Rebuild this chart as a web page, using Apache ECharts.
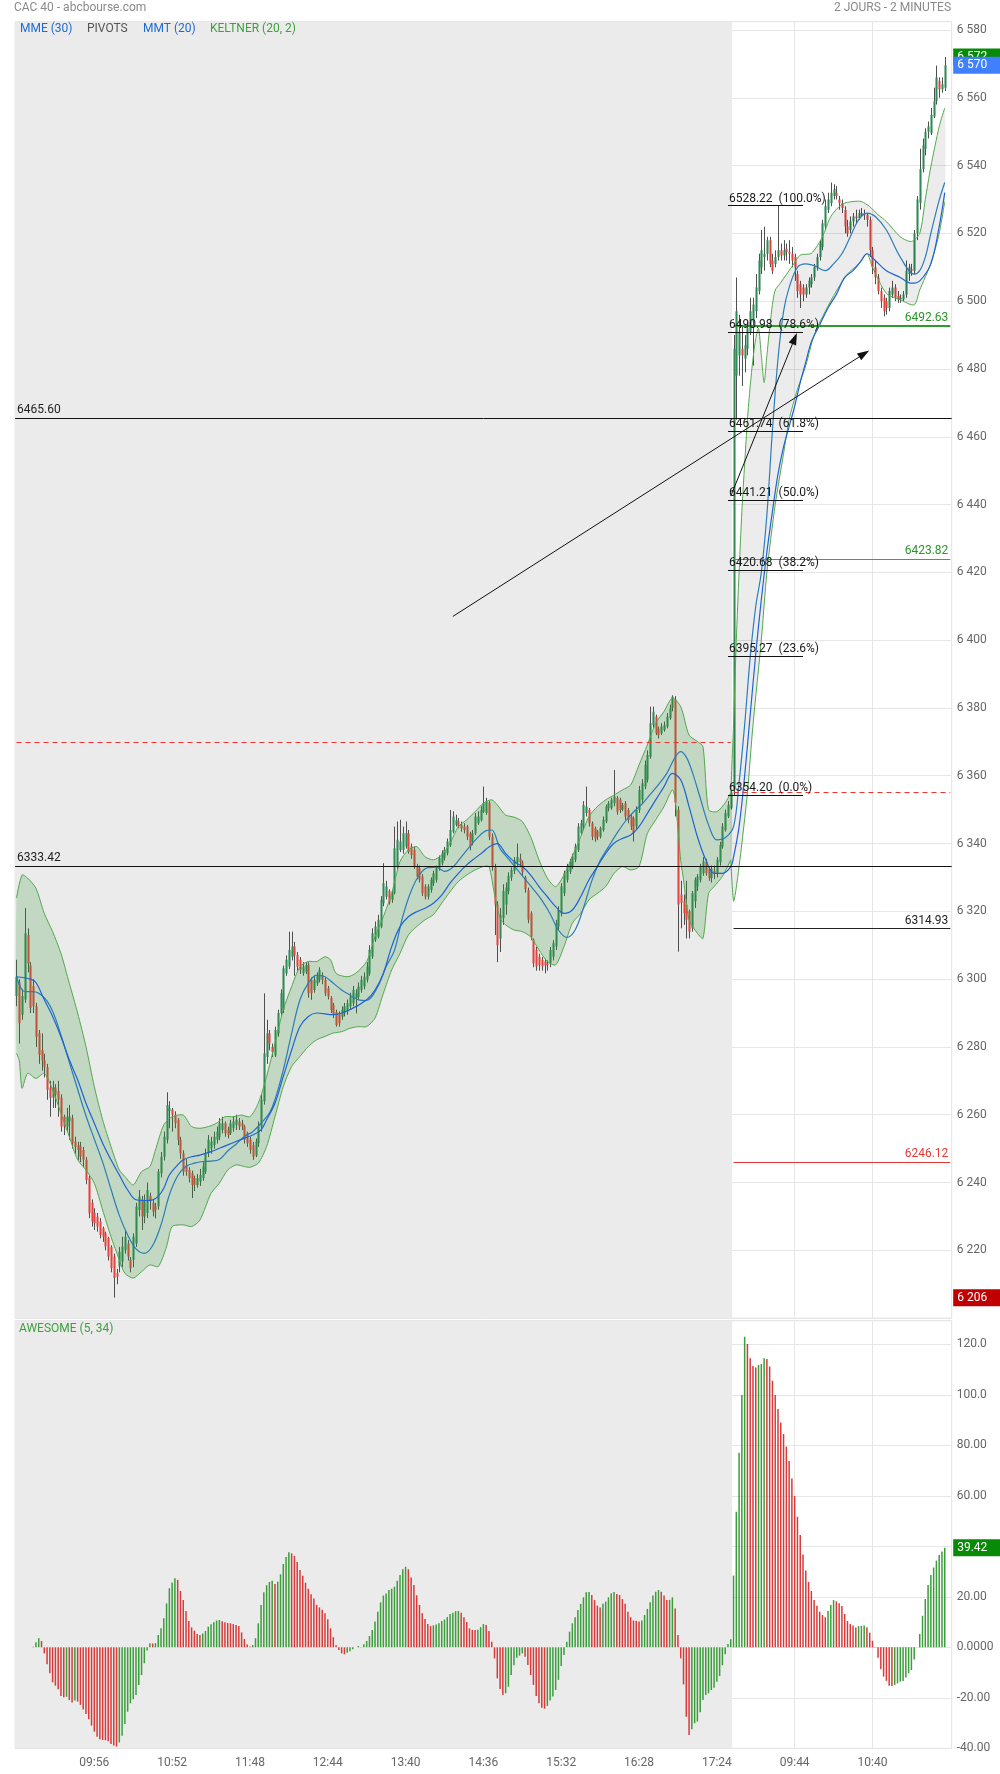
<!DOCTYPE html>
<html><head><meta charset="utf-8">
<script src="https://cdn.jsdelivr.net/npm/echarts@6/dist/echarts.min.js"></script>
<style>html,body{margin:0;padding:0;background:#fff}#c{width:1000px;height:1774px}</style>
</head><body><div id="c"></div>
<script>
// ---------- DATA ----------
const opens = [6295,6299,6289.5,6294,6313,6304,6298,6292,6284,6279,6276,6274,6268,6265,6268,6267,6265,6259.4,6256.5,6258,6259,6252,6251,6250.6,6249.6,6246.7,6241.3,6234,6231,6229.9,6228.5,6226.5,6225,6223.6,6221,6218.2,6213.2,6215.2,6216.7,6220,6222,6217.2,6217.2,6222,6231.9,6235,6230,6231,6236,6234,6232.9,6232.9,6242.7,6247.6,6252.6,6261,6261.5,6260,6258.5,6252.6,6248.6,6245,6243.7,6242.7,6241.3,6239.3,6240.3,6241.3,6243.2,6248.6,6250,6251.1,6252.6,6253.5,6255.5,6257.5,6255.5,6254.5,6256,6257,6258,6257.5,6256.5,6254.5,6252.6,6251,6248,6251.6,6256.5,6264,6277,6284,6280,6277.5,6284,6289.9,6291,6301.7,6303.7,6306.6,6309.6,6307.1,6305.7,6301.7,6302.2,6304.2,6299.8,6296.8,6298.8,6299.8,6301.2,6299.8,6297.3,6294.4,6292.4,6290.4,6289.9,6288.9,6289.9,6290.4,6291.9,6292.9,6294.4,6294.8,6296.8,6297.8,6299.8,6301.7,6306.6,6311.6,6312.5,6315.5,6322.4,6324.3,6326,6323.4,6325.3,6333.2,6338.1,6338.1,6339.1,6343,6339.1,6338.1,6333.2,6332.7,6330.3,6327.3,6324.3,6326.3,6328.3,6329.3,6332.7,6334.2,6335.7,6337.1,6339.6,6343.5,6345.5,6346.5,6345.5,6345,6345,6343,6340.6,6343,6346,6346.9,6349.4,6349,6352,6342,6333,6322,6312,6318,6322,6326,6330,6332,6334.5,6335.5,6334.5,6330,6326.3,6319.4,6311.6,6308.6,6306.6,6305.7,6305.2,6304.5,6304.7,6306.6,6309.6,6315.5,6319.4,6325.3,6329.3,6331.7,6333.2,6335.2,6338.1,6343,6345,6349,6350,6346,6344.5,6343.5,6342,6344,6346.5,6350.4,6350.4,6351.9,6353.4,6352.9,6350,6351.9,6349.9,6348,6347.5,6345,6349.9,6352.9,6356.8,6358.8,6365.6,6375,6377.5,6373.9,6372.5,6373.5,6374.5,6377,6379.9,6382.5,6350,6325,6323,6322,6320,6315,6323,6327.3,6329.3,6331.2,6334.7,6332.5,6329.8,6332,6331,6334.5,6339.1,6344,6348,6350.4,
6356,6478,6484,6486,6483,6486,6491,6494,6497,6503,6510,6513,6514,6518,6512,6511,6513,6515,6513.5,6515.5,6514.5,6514,6513,6508,6505,6504,6502,6504,6505,6507,6510,6513,6516,6522,6527,6529,6531,6532,6530,6529,6527,6522,6521,6523.5,6525,6524.5,6525.5,6526,6525.5,6524,6515,6510,6507,6503,6501,6500,6498,6502,6504,6501.5,6500.5,6500.5,6502,6508,6509.5,6509,6520,6529,6539,6545,6550,6549.5,6554.5,6559,6565,6562.5,6563];
const highs = [6305.7,6300,6297,6321,6315,6305,6300,6293,6285,6284,6278,6275,6270,6270,6269,6270,6266,6260,6262,6262.9,6260,6253.5,6252,6252,6250.5,6247.5,6242,6235,6232.4,6231,6229.5,6227,6225.5,6224,6221.5,6219,6214.5,6221,6224,6226,6223,6218,6225,6234,6237.8,6236,6236.5,6240,6237,6235,6234,6244,6249,6255,6266.6,6264,6262,6261,6259,6253.5,6249.5,6247,6244.5,6243.5,6242,6242.5,6244,6246,6250,6254,6253.5,6255,6256.5,6259,6259.4,6258,6256.5,6258.5,6259.5,6260,6259,6258.5,6257,6255,6253.5,6252,6253,6258,6266,6295.8,6288,6285,6281,6286,6291,6297,6304,6307,6314,6314,6311,6308,6306.5,6305,6305,6305,6300.5,6301,6302,6303.5,6302,6300.5,6298,6295,6293,6291,6290.5,6292,6293,6294,6296,6298,6297,6299,6301,6302,6305,6310,6315,6317,6319,6324.5,6334.2,6329,6326.5,6326,6345,6346.5,6347,6345,6346.5,6344,6340,6339,6334,6333.5,6331,6328,6328,6330,6332,6333.5,6336.5,6338,6339,6341.5,6349.9,6349.5,6348.5,6347.5,6346.5,6346,6345.5,6343.5,6344,6349,6349.5,6351,6356.8,6353.5,6352.5,6343,6334,6323,6321,6328,6328.5,6331.5,6333,6336,6340,6337,6335,6330.5,6327,6320,6312,6309.5,6307.5,6306.5,6306,6305.5,6309.5,6311.5,6317.5,6321.5,6328.3,6332,6334,6335.5,6337,6340,6346,6347,6352.5,6356.8,6350.5,6346.5,6345,6344,6345,6348,6351.5,6352.5,6353.5,6361.7,6354,6353.5,6352,6352.5,6350.5,6348.5,6348,6351,6357,6359,6364.5,6367.5,6380.4,6380.4,6378,6374.5,6375.5,6376,6378.5,6381,6383.74,6383.5,6351,6329,6325,6329,6320.5,6326,6330,6331,6334,6336,6335.5,6333,6333.5,6333.5,6336,6340.5,6346,6350,6352.5,6355.5,
6490,6507,6496,6493,6490,6494,6501,6501,6508,6514,6521,6522,6519,6519,6514,6515,6528.22,6517,6518,6517,6518,6516,6514,6509,6506,6505,6505,6507,6508,6511,6514,6518,6524,6530,6532,6535,6534.5,6534,6531,6530,6528,6524,6525,6526,6527,6527,6527.5,6527,6526,6525,6516,6512,6508,6504,6502,6501,6504,6506,6505,6503,6502,6503,6512,6511,6511,6521,6531,6545,6548,6551,6553,6557,6563,6569.5,6566,6566,6572];
const lows = [6292,6281,6288,6293,6302,6290,6290,6280,6275,6273,6271,6264.4,6259.4,6262,6262,6259.4,6255,6254,6255,6252.6,6250,6248.5,6246.7,6246,6244.5,6239.5,6229.5,6227,6226,6225.5,6223.5,6222.5,6220,6217,6213.5,6206.04,6210,6213.5,6215,6219,6217,6213.5,6215,6221,6230,6226,6228,6229.5,6232,6230,6229.4,6232,6241.5,6246.5,6251.5,6256,6255,6256,6251,6247,6242,6242,6240,6235.4,6237.5,6238.5,6239,6240.5,6242.5,6247.5,6248.5,6250,6251.5,6252.5,6254.5,6253.5,6253,6254,6255,6255.5,6255.5,6255.5,6251.5,6250.5,6248.5,6246.7,6247.5,6250.5,6255,6263,6275,6279,6277,6277,6283,6289,6290,6301,6303,6305.5,6301,6302,6301.5,6301,6301.5,6294.5,6293.9,6296,6298,6299,6298.5,6295,6294,6290,6288.5,6286,6286,6288,6289,6289.5,6291,6292,6289.9,6294,6296,6297,6299,6301,6306,6311,6312,6315,6321.5,6323.5,6322,6322.5,6325,6332.5,6337.5,6337,6338.5,6337,6335.5,6332.5,6329.5,6328.5,6324.5,6323.5,6323.5,6325.5,6327.5,6328.5,6332,6333.5,6335,6336.5,6339,6343,6345,6344.5,6343.5,6343,6341,6338,6339.5,6342.5,6345.5,6346.5,6349,6348.5,6341,6332,6313,6305,6308,6316,6319,6325,6329,6331,6333,6333,6330.5,6325.5,6316.5,6311.5,6303.5,6302.5,6302.5,6302.5,6301.7,6302.5,6303.5,6305.5,6308.6,6314.5,6318.5,6324.5,6328.5,6331,6332.5,6334.5,6337.5,6342.5,6344,6348,6345,6341,6340.5,6341,6341.5,6343.5,6346,6349.5,6350,6351,6348.5,6349,6349.5,6347,6346,6344,6340.6,6344,6349,6352,6356,6358,6365,6374,6372,6371,6372,6373,6374,6376.5,6379,6348,6308.1,6315,6316,6312,6312,6314,6321,6326,6328.5,6330.5,6330.5,6329,6328.5,6329.5,6330,6333.5,6338.5,6343.5,6347.5,6350,
6354.2,6465,6478,6475,6479,6484,6490,6481,6495,6502,6508,6509,6512,6510,6508,6510,6512,6512,6512,6512,6511,6510,6506,6501,6498,6500,6501,6502,6504,6506,6509,6512,6515,6521,6526,6528,6530,6530,6527,6526,6520,6519,6520,6522,6523,6524,6525,6524,6522,6513,6508,6505,6502,6498,6495.5,6496,6497,6501,6500,6499.5,6499.5,6500,6501,6506,6507.5,6508,6518,6527,6538,6543,6548,6549,6554,6558,6560,6561.5,6562];
const closes = [6300.7,6287,6295,6313.5,6304.5,6291.5,6292,6283,6277.6,6276,6274,6267.3,6265,6268,6266,6264.5,6256.5,6256.5,6259.4,6259.5,6251.6,6250.5,6249.6,6247.6,6246.7,6240.8,6230.9,6228.5,6228,6227,6224.5,6224,6221.1,6218.2,6214.7,6211.8,6212.3,6219.6,6221.1,6224,6218.2,6214.7,6224,6232.9,6235.9,6230,6234.4,6237.8,6234.4,6231.4,6231.9,6243.2,6247.6,6253.5,6262.9,6261.9,6260,6257.5,6252.6,6248.6,6243.2,6243.2,6241.3,6239.3,6239.3,6241.3,6242.2,6244.7,6248.6,6252.6,6252.1,6253.5,6255,6257.5,6257.5,6254.5,6254,6257.5,6258,6258.5,6256.5,6256.5,6252.6,6251.6,6249.6,6247.6,6252.1,6256.5,6264.4,6278.1,6284,6281,6278.5,6285,6290,6295.8,6303.2,6305.7,6308.6,6309.6,6307,6303.7,6302.7,6303.7,6304.2,6295.8,6295.8,6299.8,6301.2,6302.7,6299.8,6295.8,6294.8,6290.9,6289.4,6286.5,6287,6290.9,6291.9,6292.9,6294.8,6296.8,6295.8,6297.8,6299.8,6300.7,6303.7,6308.6,6313.5,6315.5,6317.5,6323.4,6328.3,6327.3,6322.6,6325.3,6338.6,6341.1,6340.6,6343,6343,6337.6,6336.6,6333.2,6330.3,6329.3,6325.3,6324.3,6327.3,6329.3,6331.2,6332.7,6335.7,6337.1,6338.1,6340.6,6344,6348,6346.9,6345,6344.5,6344,6342,6339.1,6343,6348,6348,6349.9,6351.9,6352.4,6342,6333,6322,6310,6319,6326,6327,6330.5,6332.3,6335,6336,6334.5,6331.5,6326.5,6317.5,6312.5,6304.7,6303.7,6304.2,6303.7,6304,6304.2,6308.6,6310.6,6316.5,6320.4,6327.3,6331.2,6333.2,6334.7,6336.2,6339.1,6345,6346,6351.4,6350.9,6346,6342,6341.5,6342,6344.5,6347,6350.9,6351.9,6352.9,6353.9,6349.4,6349.9,6351.4,6348,6347,6345,6343,6349.9,6355.8,6357.8,6363.2,6366.1,6375.5,6378.9,6372.5,6372,6374.5,6375,6377.5,6379.9,6383.3,6352,6322,6322.5,6319.4,6317.5,6314,6325.3,6329.3,6330.3,6333.2,6334.7,6331.2,6329.8,6332.5,6331,6335.2,6339.6,6345,6349,6351.4,6355.01,
6486,6497,6491,6484,6487,6492,6497,6499,6504,6512,6515,6514,6518,6511,6509,6513,6515,6513.5,6515,6514.5,6514,6512,6510,6503,6502,6502,6504,6506,6507,6510,6513,6517,6523,6528,6530,6532,6533,6531,6529,6527.5,6522,6520,6523.5,6525,6524.5,6526,6526,6525.5,6524,6515,6510,6507,6503,6500,6497,6498,6503,6504,6501,6500.5,6501,6502,6509,6510,6509,6520,6530,6539,6546,6550,6551.5,6555,6559,6566,6562.5,6564,6569.6];

// Awesome oscillator (5, 34), first bar at index 6
const aoStart = 6;
const awesome = [0.2,2.0,3.6,2.5,-2.4,-6.7,-10.3,-13.9,-15.2,-16.6,-19.3,-19.8,-19.6,-20.9,-21.9,-21.1,-21.5,-22.8,-24.6,-26.4,-28.5,-31.0,-33.4,-35.4,-36.4,-36.7,-36.8,-37.2,-38.3,-38.9,-39.3,-37.7,-35.0,-30.4,-25.5,-22.2,-20.6,-18.9,-14.9,-11.0,-6.3,-1.3,1.6,1.5,1.6,4.9,7.5,11.5,17.4,23.4,25.7,27.3,26.7,22.3,18.7,14.4,10.4,7.9,6.6,5.3,4.9,5.5,6.5,8.2,9.1,9.9,10.6,10.8,10.3,9.9,9.6,9.5,9.2,8.8,8.4,5.9,3.3,1.1,0.3,0.9,3.6,9.5,16.8,21.8,24.6,25.9,26.4,25.1,26.0,28.9,33.0,35.8,37.6,37.2,36.2,33.8,30.6,28.3,25.6,23.2,21.0,19.3,16.8,15.8,14.9,13.5,11.1,7.5,4.0,0.8,-1.1,-2.4,-2.8,-2.2,-1.6,-0.8,0.0,0.5,0.1,1.2,2.5,4.5,6.9,10.2,14.1,17.8,20.5,21.3,22.7,23.2,24.0,26.4,28.6,30.9,31.9,30.9,27.6,24.7,20.6,16.8,13.5,11.2,9.2,8.4,8.7,9.0,9.5,10.4,11.0,12.0,13.2,13.7,14.3,14.4,13.7,11.9,10.0,7.5,6.9,6.9,7.0,8.0,9.2,8.8,6.5,2.2,-4.4,-12.3,-16.5,-18.9,-18.2,-15.6,-11.0,-7.1,-4.1,-3.3,-2.4,-3.7,-7.0,-11.0,-14.9,-19.3,-22.2,-23.9,-24.3,-23.2,-21.1,-19.5,-16.9,-12.9,-7.4,-3.0,2.2,6.2,9.5,11.9,14.8,17.2,19.8,21.8,21.9,20.7,18.7,16.5,15.8,17.2,18.1,19.8,21.4,21.9,21.1,20.7,19.1,17.2,14.1,11.9,10.6,10.5,10.2,10.6,12.8,15.2,17.8,20.5,22.0,22.7,22.0,20.5,18.7,18.8,19.8,15.4,4.9,-4.4,-14.7,-27.5,-34.7,-32.5,-30.1,-29.4,-25.7,-20.9,-18.9,-18.2,-16.9,-16.0,-13.6,-11.4,-7.1,-2.8,1.3,3.2,28.4,53.7,77.1,99.9,123.0,120.1,114.5,111.4,110.8,111.8,112.2,114.5,114.2,111.2,105.6,99.9,94.4,89.0,84.5,79.5,73.8,66.9,59.9,51.7,44.5,36.8,30.4,25.9,22.3,18.7,16.5,14.1,12.8,11.9,14.4,16.8,18.7,18.2,17.4,16.4,13.2,10.4,9.2,8.6,7.8,8.4,8.5,8.6,7.9,5.8,2.6,0.1,-4.1,-8.7,-11.6,-13.3,-15.2,-15.3,-14.9,-14.3,-13.6,-13.3,-12.0,-10.3,-9.0,-4.8,0.0,5.3,12.5,19.1,24.7,28.6,31.6,34.3,36.6,37.9,39.42];

// Moving averages, sampled along the curves [candle index, value]
const mmt = [[0,6300.7],[3,6296.3],[6,6296.3],[10,6294.5],[13,6290.5],[16,6283.5],[19,6275.5],[22,6267.5],[25,6259.7],[28,6252.8],[31,6246],[34,6238],[37,6230.3],[40,6224.5],[43,6220.4],[46,6219.1],[49,6221.4],[52,6227.5],[55,6236.3],[58,6242],[61,6244.8],[64,6245.7],[67,6246.2],[70,6246.3],[73,6246.8],[76,6249.3],[79,6251.3],[82,6253.6],[85,6255],[88,6257.5],[91,6260.5],[93,6264.4],[96,6273.2],[99,6284],[102,6293.9],[105,6298.8],[108,6301.2],[111,6300.7],[114,6298.8],[117,6296.8],[120,6295.3],[123,6293.9],[126,6293.7],[130,6297.8],[133,6303.7],[136,6308.5],[139,6318.5],[142,6326],[145,6330.8],[148,6332.9],[151,6333],[154,6331.8],[157,6333],[160,6336],[163,6339],[166,6341.8],[169,6343.8],[171,6344],[174,6338.5],[177,6335.5],[180,6332.5],[183,6329.5],[186,6326.5],[189,6323.3],[192,6319.3],[195,6314.5],[198,6312.3],[201,6314.5],[204,6321],[207,6329],[210,6335],[213,6339],[216,6343],[219,6346.5],[222,6349.3],[225,6351.6],[228,6354.5],[231,6357.4],[234,6360.7],[237,6365.5],[239,6367.1],[241,6365.5],[243,6361.5],[246,6353.5],[249,6345.5],[252,6341.1],[255,6341.7],[258,6345],[260,6358],[262,6375],[264,6395],[266,6410],[268,6420],[270,6437],[272,6462],[274,6483],[276,6497],[278,6504],[281,6510],[284,6511],[287,6510.5],[291,6509],[294,6511],[297,6514],[300,6519],[303,6524],[306,6526],[309,6525],[313,6521],[318,6513],[323,6508],[325,6509],[327,6513],[329,6520],[332,6529.8],[334,6535]];
const mme = [[0,6300.7],[5,6300],[7,6299],[10,6293.9],[13,6289],[16,6283],[19,6276.2],[22,6270.3],[25,6263.4],[28,6257.5],[31,6251.6],[34,6246.7],[37,6242.2],[40,6237.8],[43,6234.9],[46,6234.7],[49,6234.9],[51,6235.9],[53,6238.3],[55,6242.2],[58,6245.2],[60,6246.7],[63,6247.6],[66,6248.1],[70,6249.1],[73,6250.1],[76,6251.1],[79,6252.1],[82,6253.1],[85,6254],[88,6255.5],[90,6258.5],[93,6263.4],[96,6271.3],[99,6279.1],[102,6286],[105,6289],[108,6290],[114,6289.5],[120,6291],[126,6293.9],[129,6296.8],[132,6301.7],[135,6309.6],[138,6315.5],[141,6318.4],[144,6319.9],[147,6320.9],[150,6322.4],[153,6324.8],[156,6328.3],[159,6331.2],[162,6333.7],[165,6335.7],[168,6337.6],[170,6339],[173,6340],[176,6337.1],[179,6334.7],[182,6333.2],[185,6330.7],[188,6327.3],[191,6324.3],[194,6321.4],[197,6319.4],[200,6320.4],[203,6324.3],[206,6329.3],[209,6333.2],[212,6337.1],[215,6340.1],[218,6341.5],[221,6342.5],[224,6345],[227,6348.9],[230,6352.9],[233,6356.8],[236,6360.7],[239,6358.8],[242,6350.9],[245,6342],[248,6335.2],[251,6331.2],[254,6331.2],[257,6333.2],[258,6336],[260,6345],[262,6360],[264,6378],[266,6396],[268,6412],[270,6426],[272,6438],[274,6449],[276,6457],[278,6463],[280,6469],[282,6476],[284,6482],[286,6488],[289,6493],[292,6498],[295,6502],[298,6507],[301,6509],[304,6512],[306,6514],[309,6512],[313,6509],[318,6507],[322,6505.3],[325,6506],[329,6511],[332,6522],[334,6532]];

// Keltner (20, 2) bands, sampled along the curves
const kUpper1 = [[0,6323.9],[2,6330.7],[4,6329.8],[7,6326.8],[10,6319.4],[13,6314],[16,6307.6],[19,6298.8],[22,6290],[25,6280.1],[28,6268.3],[31,6258.5],[34,6250.6],[37,6243.7],[39,6241.8],[42,6239.3],[45,6243.2],[48,6244.7],[50,6249.6],[53,6257],[56,6259.4],[60,6259.9],[63,6256.5],[66,6256],[69,6256.5],[72,6257.5],[75,6259.4],[78,6259.4],[81,6259.9],[84,6259.4],[87,6263.4],[90,6271.3],[93,6281.1],[96,6291],[99,6297.8],[102,6303.7],[105,6305.2],[108,6305.2],[111,6306.6],[113,6305.7],[115,6301.7],[119,6300.7],[122,6301.7],[126,6305.2],[129,6312.5],[132,6318.4],[135,6325.3],[138,6334.7],[141,6338.1],[144,6339.1],[147,6336.1],[150,6335.2],[153,6336.6],[156,6340.1],[159,6345],[162,6347],[165,6349.4],[168,6351.9],[171,6352.9],[173,6351.4],[176,6348.4],[179,6347.8],[182,6346.5],[185,6342],[188,6335.2],[191,6329.8],[194,6327.3],[197,6330.7],[200,6336.2],[203,6342],[206,6348],[209,6350.9],[212,6352.9],[215,6354.3],[218,6355.8],[221,6357.3],[224,6363.2],[227,6369.1],[230,6375.5],[233,6379],[236,6382.9],[239,6380.4],[242,6372],[245,6370.1],[247,6368.6],[249,6350],[252,6349.4],[255,6352],[257,6355]];
const kLower1 = [[0,6278.1],[1,6276],[2,6267.8],[4,6272.2],[7,6270.7],[10,6272.2],[13,6267.3],[16,6260.4],[19,6253.5],[22,6246.7],[25,6243.7],[28,6239.8],[31,6231.9],[34,6224],[37,6217.2],[39,6213.2],[42,6211.8],[45,6213.7],[48,6215.7],[51,6215.2],[54,6221.1],[56,6227],[60,6227.5],[63,6227],[66,6228.9],[70,6236.8],[73,6239.8],[76,6243.7],[79,6245.2],[82,6244.7],[84,6244.5],[87,6245.7],[90,6250.6],[93,6259.4],[96,6268.3],[99,6274.2],[102,6277.2],[105,6280.1],[108,6282.1],[111,6283.1],[114,6284.1],[117,6284.5],[120,6285.5],[123,6286],[126,6286],[129,6288.5],[132,6295.8],[135,6302.7],[138,6307.6],[141,6313],[144,6315.5],[147,6317.5],[150,6319],[153,6322.4],[156,6325.8],[159,6328.8],[162,6330.7],[165,6332.2],[168,6333.2],[170,6333.2],[172,6325],[174,6318],[176,6316],[179,6314.5],[182,6314],[185,6312.5],[188,6308.6],[191,6305.2],[194,6304.2],[197,6309.6],[200,6316.5],[203,6319.4],[206,6323.4],[209,6325.3],[212,6327.3],[215,6331.2],[218,6333.2],[221,6332.2],[224,6333.2],[227,6343],[230,6347],[233,6350.9],[236,6355.8],[237,6353],[239,6335],[240,6329.3],[242,6317.5],[245,6313.5],[247,6312],[249,6325.3],[251,6327.3],[254,6330.3],[257,6335.2]];
const kUpper2 = [[257,6355],[258,6375],[259,6400],[260,6420],[261,6438],[262,6452],[263,6465],[264,6475],[265,6483],[266,6489],[267,6492],[268,6484],[269,6476],[270,6484],[271,6492],[272,6499],[273,6503.3],[275,6505.5],[279,6510.2],[282,6513.6],[286,6514.1],[290,6519],[293,6525],[297,6528.6],[301,6529.4],[304,6529.4],[307,6527.9],[310,6525.5],[313,6523.5],[318,6519],[322,6517.6],[325,6520],[327,6530],[329,6539.7],[332,6551.5],[334,6557]];
const kLower2 = [[257,6335.2],[258,6323],[259,6327],[261,6340],[263,6355],[265,6375],[268,6400],[270,6420],[273,6440],[276,6455],[278,6465],[281,6474],[284,6481],[287,6490],[291,6497],[295,6503],[299,6508],[303,6511],[306,6514],[308,6510],[313,6502.3],[318,6500.4],[323,6498.9],[325,6503.3],[329,6511.2],[332,6520],[334,6529.4]];

// Horizontal levels
const userLines = [6465.60, 6333.42];
const prevPivotDay1 = 6370;
const prevClose = 6355.01;
const pivotLevels = [
  {v: 6492.63, color: '#2f9a2f', text: '#2a962a', width: 2},
  {v: 6423.82, color: '#3fa53f', text: '#2a962a', width: 1},
  {v: 6314.93, color: '#222222', text: '#222', width: 1},
  {v: 6246.12, color: '#e53935', text: '#e53935', width: 1}
];
const fibLevels = [[6528.22,'100.0%'],[6490.98,'78.6%'],[6461.74,'61.8%'],[6441.21,'50.0%'],[6420.68,'38.2%'],[6395.27,'23.6%'],[6354.20,'0.0%']];
const arrows = [[[157,6407.0],[305,6484.5]], [[257,6442.5],[280,6489.0]]];
const dayHigh = 6572, dayLow = 6206.04;
// tick labels of the oscillator axis (40 is hidden under the value badge)
const aoLabels = {'120':'120.0','100':'100.0','80':'80.00','60':'60.00','20':'20.00','0':'0.0000','-20':'-20.00','-40':'-40.00'};

// ---------- categories ----------
const day1Count = 258, day2Slots = 79;
function hm(m){const h=Math.floor(m/60), mm=m%60; return (h<10?'0':'')+h+':'+(mm<10?'0':'')+mm;}
const categories = [];
for (let k=0;k<day1Count;k++) categories.push('J1 '+hm(540+2*k));
for (let k=0;k<day2Slots;k++) categories.push('J2 '+hm(540+2*k));
const N = categories.length;
const timeTick = (i)=>i>0 && i<N-2 && i%28===0;

function fmtPrice(v){ const s=String(Math.round(v)); return s.slice(0,s.length-3)+' '+s.slice(-3); }

// ---------- build series data ----------
const candleData = closes.map((c,i)=>[i, opens[i], c, lows[i], highs[i]]);
const GREEN_AO='#3b9d3b', RED_AO='#d83a3a';
const aoData = [];
for (let i=0;i<closes.length;i++){
  const k=i-aoStart;
  if (k<0){ aoData.push(null); continue; }
  const v=awesome[k], p=k>0?awesome[k-1]:Infinity;
  aoData.push({value:v, itemStyle:{color: v>p?GREEN_AO:RED_AO}});
}
const lastClose = closes[closes.length-1];
const lastAO = awesome[awesome.length-1];

const GRID_TOP=21.7, GRID_LEFT=15.1, GRID_RIGHT=48.3;
const PRICE_MIN=6200, PRICE_MAX=6582.45;
const AO_MIN=-40, AO_MAX=129.35;

const bandSegs = [
  {up:kUpper1, lo:kLower1, fill:'rgba(50,150,50,0.22)'},
  {up:kUpper2, lo:kLower2, fill:'rgba(0,0,0,0.075)'}
];

const markLineData = [];
userLines.forEach(v=>markLineData.push({yAxis:v, lineStyle:{color:'#111',width:1,type:'solid'},
  label:{show:true,position:'insideStartTop',formatter:v.toFixed(2),color:'#222',fontSize:12,distance:2}}));
markLineData.push([{coord:[0,prevPivotDay1], lineStyle:{color:'#ee3333',width:1,type:[5,4]}, label:{show:false}},{coord:[day1Count-1,prevPivotDay1]}]);
markLineData.push([{coord:[day1Count,prevClose], lineStyle:{color:'#ee3333',width:1,type:[5,4]}, label:{show:false}},{coord:[N-1,prevClose]}]);
pivotLevels.forEach(p=>markLineData.push([{coord:[day1Count,p.v], lineStyle:{color:p.color,width:p.width,type:'solid'},
  label:{show:true,position:'insideEndTop',formatter:p.v.toFixed(2),color:p.text,fontSize:12,distance:2}},{coord:[N-1,p.v]}]));
fibLevels.forEach(f=>markLineData.push([{coord:[256,f[0]], lineStyle:{color:'#111',width:1,type:'solid'},
  label:{show:true,position:'insideStartTop',formatter:f[0].toFixed(2)+'  ('+f[1]+')',color:'#1a1a1a',fontSize:12,distance:1}},{coord:[283,f[0]]}]));

const headerGraphics = [
  {id:'h1',type:'text',left:14,top:2,style:{text:'CAC 40 - abcbourse.com',fill:'#8a8a8a',font:'12px Roboto'}},
  {id:'h2',type:'text',right:49,top:2,style:{text:'2 JOURS - 2 MINUTES',fill:'#8a8a8a',font:'12px Roboto',textAlign:'right'}},
  {id:'l1',type:'text',left:20,top:23,z:10,style:{text:'MME (30)',fill:'#1f6bd0',font:'12px Roboto'}},
  {id:'l2',type:'text',left:87,top:23,z:10,style:{text:'PIVOTS',fill:'#555',font:'12px Roboto'}},
  {id:'l3',type:'text',left:143,top:23,z:10,style:{text:'MMT (20)',fill:'#1f6bd0',font:'12px Roboto'}},
  {id:'l4',type:'text',left:210,top:23,z:10,style:{text:'KELTNER (20, 2)',fill:'#3ea03e',font:'12px Roboto'}},
  {id:'l5',type:'text',left:19,top:1323,z:10,style:{text:'AWESOME (5, 34)',fill:'#3ea03e',font:'12px Roboto'}}
];

const option = {
  animation:false,
  textStyle:{fontFamily:'Roboto, "Open Sans", sans-serif'},
  grid:[
    {left:GRID_LEFT,right:GRID_RIGHT,top:GRID_TOP,height:1296.4,show:true,borderColor:'#e2e2e2',borderWidth:1,backgroundColor:'transparent'},
    {left:GRID_LEFT,right:GRID_RIGHT,top:1320.7,height:427.6,show:true,borderColor:'#e2e2e2',borderWidth:1,backgroundColor:'transparent'}
  ],
  xAxis:[
    {type:'category',gridIndex:0,data:categories,boundaryGap:true,axisLine:{show:false},axisTick:{show:false,alignWithLabel:true},axisLabel:{show:false},
     splitLine:{show:true,alignWithLabel:true,interval:timeTick,lineStyle:{color:'#e6e6e6'}}},
    {type:'category',gridIndex:1,data:categories,boundaryGap:true,axisLine:{show:false,onZero:false},axisTick:{show:false,alignWithLabel:true},
     axisLabel:{show:true,interval:timeTick,formatter:(v)=>v.slice(3),color:'#666',fontSize:12,margin:9},
     splitLine:{show:true,alignWithLabel:true,interval:timeTick,lineStyle:{color:'#e6e6e6'}}}
  ],
  yAxis:[
    {type:'value',gridIndex:0,position:'right',min:PRICE_MIN,max:PRICE_MAX,interval:20,
     axisLine:{show:false},axisTick:{show:false},
     axisLabel:{color:'#666',fontSize:12,margin:5,showMinLabel:false,showMaxLabel:false,
       formatter:(v)=>(v>PRICE_MIN&&v<PRICE_MAX&&Math.abs(v%20)<1e-6)?fmtPrice(v):''},
     splitLine:{lineStyle:{color:'#e6e6e6'}}},
    {type:'value',gridIndex:1,position:'right',min:AO_MIN,max:AO_MAX,interval:20,
     axisLine:{show:false},axisTick:{show:false},
     axisLabel:{color:'#666',fontSize:12,margin:5,showMaxLabel:false,formatter:(v)=>{const k=String(Math.round(v)); return (Math.abs(v-Math.round(v))<1e-6 && aoLabels[k]!==undefined)?aoLabels[k]:'';}},
     splitLine:{lineStyle:{color:'#e6e6e6'}}}
  ],
  series:[
    {id:'candles',type:'custom',xAxisIndex:0,yAxisIndex:0,z:2,data:candleData,encode:{x:0,y:[1,2,3,4]},clip:true,
     renderItem:(params,api)=>{
       const i=api.value(0),o=api.value(1),c=api.value(2),l=api.value(3),h=api.value(4);
       const pO=api.coord([i,o]),pC=api.coord([i,c]),pL=api.coord([i,l]),pH=api.coord([i,h]);
       const w=Math.max(1.6,api.size([1,0])[0]*0.74);
       const top=Math.min(pO[1],pC[1]),bot=Math.max(pO[1],pC[1]);
       const x=Math.round(pO[0])+0.5;
       return {type:'group',children:[
         {type:'line',shape:{x1:x,y1:pH[1],x2:x,y2:pL[1]},style:{stroke:'#505050',lineWidth:1}},
         {type:'rect',shape:{x:x-w/2,y:top,width:w,height:Math.max(1,bot-top)},style:{fill:c>=o?'#2f8a55':'#e2443e'}}
       ]};
     }},
    {id:'keltner',type:'custom',xAxisIndex:0,yAxisIndex:0,z:3,data:[[0,6300],[1,6300]],encode:{x:0,y:1},clip:true,silent:true,
     renderItem:(params,api)=>{
       const seg=bandSegs[params.dataIndex];
       const up=seg.up.map(p=>api.coord(p)), lo=seg.lo.map(p=>api.coord(p));
       const poly=up.concat(lo.slice().reverse());
       return {type:'group',children:[
         {type:'polygon',shape:{points:poly,smooth:0.25},style:{fill:seg.fill}},
         {type:'polyline',shape:{points:up,smooth:0.25},style:{stroke:'#52a84c',lineWidth:1,fill:null}},
         {type:'polyline',shape:{points:lo,smooth:0.25},style:{stroke:'#52a84c',lineWidth:1,fill:null}}
       ]};
     }},
    {id:'mmt',type:'line',xAxisIndex:0,yAxisIndex:0,z:4,data:mmt,smooth:0.35,symbol:'none',lineStyle:{color:'#2a7db8',width:1.2},
     markLine:{silent:true,symbol:['none','triangle'],symbolSize:[8,12],animation:false,
       data:arrows.map(a=>[{coord:a[0],lineStyle:{color:'#111',width:1,type:'solid'},label:{show:false}},{coord:a[1]}])}},
    {id:'mme',type:'line',xAxisIndex:0,yAxisIndex:0,z:4,data:mme,smooth:0.35,symbol:'none',lineStyle:{color:'#1f62d4',width:1.2},
     markLine:{silent:true,symbol:'none',animation:false,data:markLineData}},
    {id:'ao',type:'bar',xAxisIndex:1,yAxisIndex:1,z:2,data:aoData,barWidth:1.5}
  ],
  graphic: headerGraphics
};

const chart = echarts.init(document.getElementById('c'),null,{renderer:'canvas'});
chart.setOption(option);

// gray background for the previous session and value badges (positions from the axes)
const x0 = chart.convertToPixel({xAxisIndex:0},0), x1 = chart.convertToPixel({xAxisIndex:0},1);
const bw = x1-x0;
const xL = x0-bw/2, xB = chart.convertToPixel({xAxisIndex:0},day1Count-1)+bw/2;
const xR = chart.convertToPixel({xAxisIndex:0},N-1)+bw/2;
const pTop = chart.convertToPixel({yAxisIndex:0},PRICE_MAX), pBot = chart.convertToPixel({yAxisIndex:0},PRICE_MIN);
const aTop = chart.convertToPixel({yAxisIndex:1},AO_MAX), aBot = chart.convertToPixel({yAxisIndex:1},AO_MIN);

function badge(id, y, text, color){
  return {id:id,type:'group',z:20,children:[
    {type:'rect',shape:{x:xR+1.5,y:y-8.5,width:1000-xR,height:17},style:{fill:color}},
    {type:'text',style:{x:xR+5.5,y:y,text:text,fill:'#fff',font:'12px Roboto',textVerticalAlign:'middle',verticalAlign:'middle'}}
  ]};
}
const badges = [
  badge('b1', chart.convertToPixel({yAxisIndex:0},dayHigh), fmtPrice(dayHigh), '#078a07'),
  badge('b2', chart.convertToPixel({yAxisIndex:0},lastClose), fmtPrice(lastClose), '#4080ff'),
  badge('b3', chart.convertToPixel({yAxisIndex:0},dayLow), fmtPrice(dayLow), '#c00000'),
  badge('b4', chart.convertToPixel({yAxisIndex:1},lastAO), lastAO.toFixed(2), '#078a07')
];

chart.setOption({
  series:[
    {id:'mmt',markArea:{silent:true,itemStyle:{color:'#ebebeb'},data:[[{x:xL,y:pTop},{x:xB,y:pBot}]]}},
    {id:'ao',markArea:{silent:true,itemStyle:{color:'#ebebeb'},data:[[{x:xL,y:aTop},{x:xB,y:aBot}]]}}
  ],
  graphic: headerGraphics.concat(badges)
});
</script>
</body></html>
